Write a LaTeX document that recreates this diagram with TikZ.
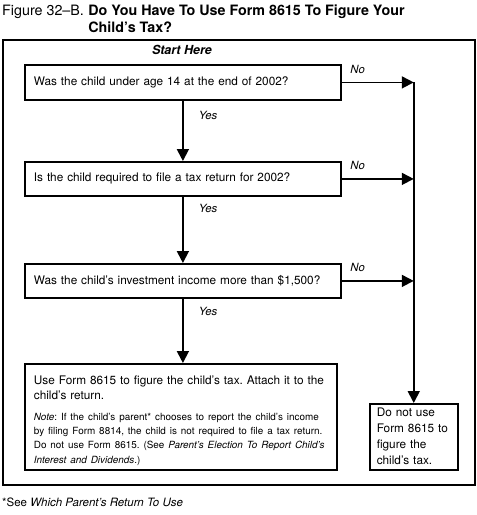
\documentclass[tikz,border=0pt]{standalone}
\usepackage{fontspec}
\setmainfont{TeX Gyre Heros}
\usetikzlibrary{arrows.meta}
\frenchspacing

\tikzset{
  qbox/.style={draw, line width=1.8pt, anchor=north west, inner xsep=9pt,
    font=\fontsize{11.8}{15}\selectfont, align=left},
  arr/.style={line width=1.8pt, -{Triangle[length=12pt,width=12pt]}},
  lbl/.style={font=\fontsize{11.3}{13}\selectfont\itshape, inner sep=0pt}
}

\begin{document}
\begin{tikzpicture}[x=1pt,y=-1pt]
\useasboundingbox (0,0) rectangle (477,515);
% title
\node[anchor=base west, inner sep=0pt, font=\fontsize{14.3}{17}\selectfont] (figno) at (2,15) {Figure 32--B.};
\node[anchor=north west, inner sep=0pt, align=left, font=\fontsize{14.3}{17}\selectfont\bfseries] (title) at ([xshift=4pt]figno.north east) {Do You Have To Use Form 8615 To Figure Your\\Child's Tax?};
% frame
\draw[line width=2pt] (3,40) rectangle (475,485);
\node[font=\fontsize{12.5}{14}\selectfont\bfseries\itshape, inner sep=0pt] (start) at (182,50) {Start Here};
% questions
\node[qbox, minimum width=316pt, minimum height=35pt, text width=298pt] (q1) at (24,64)
  {Was the child under age 14 at the end of 2002?};
\node[qbox, minimum width=316pt, minimum height=34pt, text width=298pt] (q2) at (24,161)
  {Is the child required to file a tax return for 2002?};
\node[qbox, minimum width=316pt, minimum height=34pt, text width=298pt] (q3) at (24,263)
  {Was the child's investment income more than \$1,500?};
% results
\node[qbox, minimum width=312pt, minimum height=106pt, text width=294pt] (use) at (24,363)
  {\rule{0pt}{17pt}Use Form 8615 to figure the child's tax. Attach it to the\\child's return.\par\vspace{7pt}
   \fontsize{9.9}{14}\selectfont\textit{Note}: If the child's parent* chooses to report the child's income\\
   by filing Form 8814, the child is not required to file a tax return.\\
   Do not use Form 8615. (See \textit{Parent's Election To Report Child's}\\
   \textit{Interest and Dividends}.)};
\node[qbox, line width=1.5pt, minimum width=88pt, minimum height=66pt, text width=74pt,
  inner xsep=7pt, font=\fontsize{11.8}{16}\selectfont] (nope) at (369,403)
  {Do not use\\Form 8615 to\\figure the\\child's tax.};
% yes arrows
\draw[arr] (q1.south) -- node[lbl, right=15pt, pos=0.24] {Yes} (q2.north);
\draw[arr] (q2.south) -- node[lbl, right=15pt, pos=0.17] {Yes} (q3.north);
\draw[arr] (q3.south) -- node[lbl, right=15pt, pos=0.2] {Yes} (q3.south |- use.north);
% no arrows
\draw[arr] (q1.east) -- node[lbl, above=8pt, pos=0.22] {No} (q1.east -| nope.north);
\draw[arr] (q2.east) -- node[lbl, above=8pt, pos=0.22] {No} (q2.east -| nope.north);
\draw[arr] (q3.east) -- node[lbl, above=8pt, pos=0.22] {No} (q3.east -| nope.north);
\draw[arr] (q1.east -| nope.north) -- (nope.north);
% footnote
\node[anchor=base west, inner sep=0pt, font=\fontsize{11.5}{13}\selectfont] (foot) at (2,506)
  {*See \textit{Which Parent's Return To Use}};
\end{tikzpicture}
\end{document}
